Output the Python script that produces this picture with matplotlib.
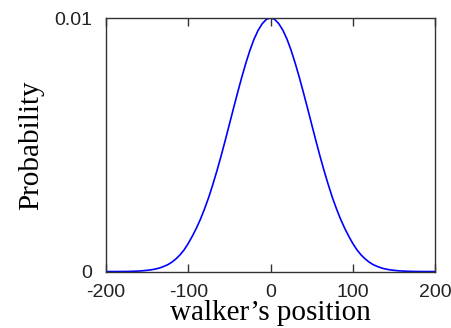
import matplotlib
matplotlib.use("Agg")
import matplotlib.pyplot as plt

# walker position vs probability, step of 5
position = list(range(-200, 205, 5))
prob_right = [0.01, 0.00995, 0.00978, 0.00952, 0.00917, 0.00873, 0.00822,
              0.00766, 0.00706, 0.00644, 0.00581, 0.00518, 0.00457,
              0.00399, 0.00345, 0.00294, 0.00249, 0.00208, 0.00172,
              0.00140, 0.00111, 0.00086, 0.00066, 0.00050, 0.00037,
              0.00027, 0.00020, 0.00014, 0.00010, 0.00007, 0.00005,
              0.000033, 0.000022, 0.000014, 0.000009, 0.000006, 0.000004,
              0.0000025, 0.0000015, 0.000001, 0.0000005]
probability = prob_right[:0:-1] + prob_right

xticks = [-200, -100, 0, 100, 200]
xtick_labels = ["-200", "-100", "0", "100", "200"]
yticks = [0, 0.01]
ytick_labels = ["0", "0.01"]

fig = plt.figure(figsize=(4.52, 3.28), dpi=100)
ax = fig.add_axes([0.2345, 0.172, 0.728, 0.773])

ax.plot(position, probability, color="#0000ff", lw=1.2, solid_joinstyle="round")

ax.set_xlim(-200, 200)
ax.set_ylim(0, 0.01)
ax.set_xticks(xticks)
ax.set_xticklabels(xtick_labels, family="Liberation Sans", fontsize=14, color="#222222")
ax.set_yticks(yticks)
ax.set_yticklabels(ytick_labels, family="Liberation Sans", fontsize=14, color="#222222")
ax.tick_params(axis="x", direction="in", length=6, width=1, color="#333333",
               top=True, pad=9)
ax.tick_params(axis="y", length=0, pad=10)

for s in ax.spines.values():
    s.set_color("#333333")
    s.set_linewidth(1)

ax.set_xlabel("walker\u2019s position", family="Liberation Serif", fontsize=21,
              labelpad=-1)
ax.set_ylabel("Probability", family="Liberation Serif", fontsize=21, labelpad=7)

fig.savefig("out.png", dpi=100)
